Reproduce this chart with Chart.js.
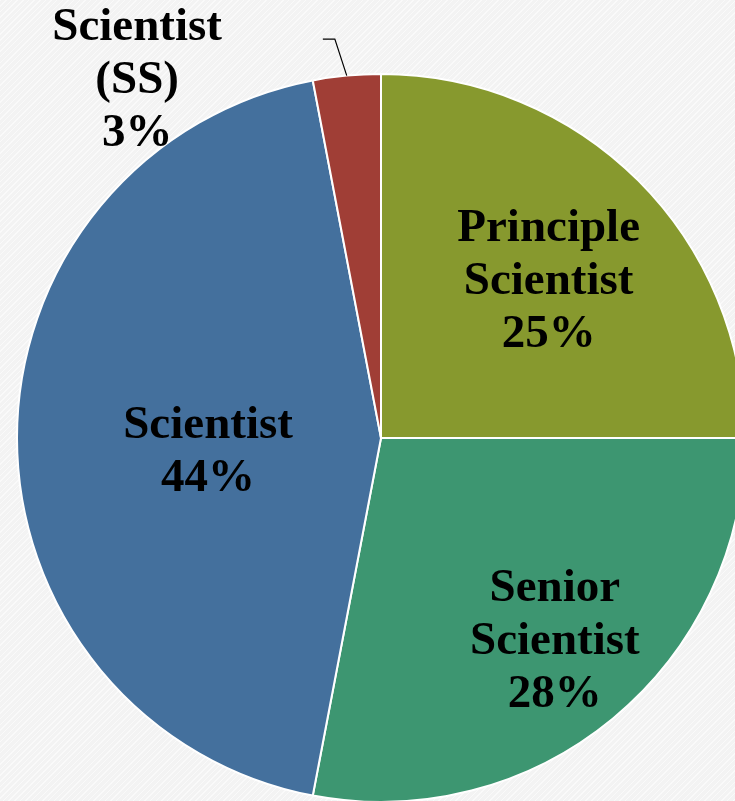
<!DOCTYPE html>
<html>
<head>
<meta charset="utf-8">
<script src="https://cdn.jsdelivr.net/npm/chart.js@4.4.1/dist/chart.umd.min.js"></script>
<style>
    html, body {
        margin: 0;
        padding: 0;
        width: 735px;
        height: 801px;
        overflow: hidden;
        background-color: #f3f3f3;
        background-image: repeating-linear-gradient(135deg, rgba(255,255,255,0.55) 0px, rgba(255,255,255,0.55) 1px, rgba(0,0,0,0) 1px, rgba(0,0,0,0) 4px);
    }
    #pie {
        position: absolute;
        left: 0;
        top: 0;
    }
</style>
</head>
<body>
<canvas id="pie" width="762" height="876"></canvas>
<script>
    // Datos del gráfico
    const categories = [
        ['Principle', 'Scientist'],
        ['Senior', 'Scientist'],
        ['Scientist'],
        ['Scientist', '(SS)']
    ];
    const shares = [25, 28, 44, 3];
    const sliceColors = ['#87992e', '#3d9671', '#44709d', '#a03e36'];

    // Posición de cada etiqueta: fracción del radio y desplazamiento angular (grados)
    const labelPlacement = [
        { r: 0.635, shift: 1.5 },
        { r: 0.728, shift: -1.4 },
        { r: 0.476, shift: -3.6 },
        { r: 1.195, shift: -28.7, leader: true }
    ];

    const FONT_SIZE = 47;
    const LINE_H = 53;

    // Plugin que dibuja las etiquetas de las porciones
    const sliceLabels = {
        id: 'sliceLabels',
        afterDatasetsDraw(chart) {
            const ctx = chart.ctx;
            const meta = chart.getDatasetMeta(0);
            const values = chart.data.datasets[0].data;
            const total = values.reduce((a, b) => a + b, 0);
            ctx.save();
            ctx.font = 'bold ' + FONT_SIZE + 'px "Liberation Serif", "Times New Roman", serif';
            ctx.fillStyle = '#000';
            ctx.textAlign = 'center';
            ctx.textBaseline = 'alphabetic';
            const capH = FONT_SIZE * 0.66;

            meta.data.forEach((arc, i) => {
                const p = labelPlacement[i];
                const mid = (arc.startAngle + arc.endAngle) / 2;
                const a = mid + p.shift * Math.PI / 180;
                const R = arc.outerRadius;
                const cx = arc.x + Math.cos(a) * R * p.r;
                const cy = arc.y + Math.sin(a) * R * p.r;

                const lines = [].concat(chart.data.labels[i]);
                lines.push(Math.round(values[i] / total * 100) + '%');
                const n = lines.length;
                lines.forEach((t, k) => {
                    const y = cy + (k - (n - 1) / 2) * LINE_H + capH / 2;
                    ctx.fillText(t, cx, y);
                });

                if (p.leader) {
                    // línea guía hacia la porción pequeña
                    const ea = mid - 1.2 * Math.PI / 180;
                    const ex = arc.x + Math.cos(ea) * R * 1.103;
                    const ey = arc.y + Math.sin(ea) * R * 1.103;
                    ctx.beginPath();
                    ctx.strokeStyle = '#000';
                    ctx.lineWidth = 1.2;
                    ctx.moveTo(ex - 12, ey);
                    ctx.lineTo(ex, ey);
                    ctx.lineTo(arc.x + Math.cos(mid) * R, arc.y + Math.sin(mid) * R);
                    ctx.stroke();
                }
            });
            ctx.restore();
        }
    };

    new Chart(document.getElementById('pie'), {
        type: 'pie',
        data: {
            labels: categories,
            datasets: [{
                data: shares,
                backgroundColor: sliceColors,
                borderColor: '#ffffff',
                borderWidth: 2
            }]
        },
        options: {
            responsive: false,
            animation: false,
            layout: {
                padding: { left: 16, right: 16, top: 73, bottom: 73 }
            },
            plugins: {
                legend: { display: false },
                tooltip: { enabled: false }
            }
        },
        plugins: [sliceLabels]
    });
</script>
</body>
</html>
